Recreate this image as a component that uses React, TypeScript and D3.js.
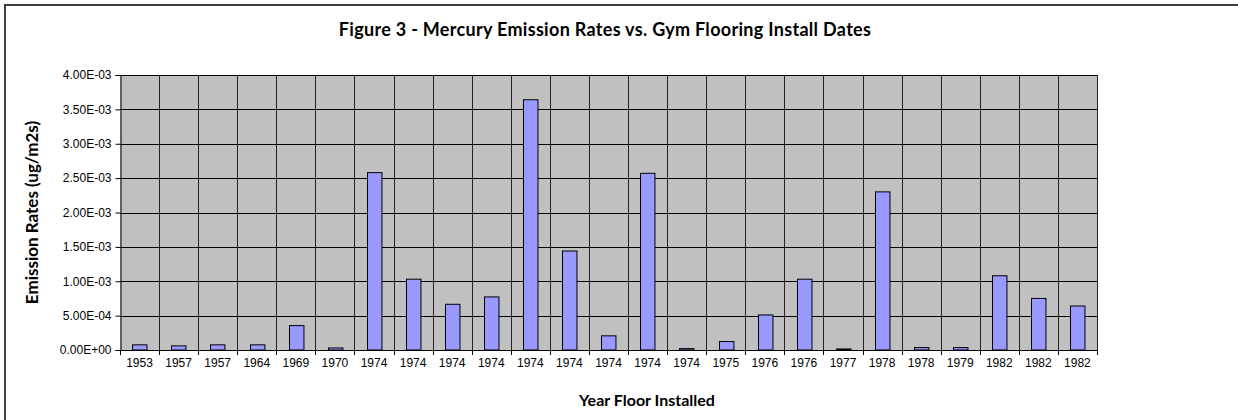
import { useEffect, useRef } from 'react';
import * as d3 from 'd3';

// install year of each floor (one bar per gym)
const years = [
  '1953', '1957', '1957', '1964', '1969', '1970', '1974', '1974', '1974', '1974',
  '1974', '1974', '1974', '1974', '1974', '1975', '1976', '1976', '1977', '1978',
  '1978', '1979', '1982', '1982', '1982',
];

// mercury emission rate, ug/m2s
const emissionRates = [
  7.5e-5, 6e-5, 7.5e-5, 7.5e-5, 3.55e-4, 3e-5, 2.58e-3, 1.03e-3, 6.65e-4, 7.72e-4,
  3.64e-3, 1.44e-3, 2.06e-4, 2.57e-3, 2e-5, 1.23e-4, 5.1e-4, 1.03e-3, 1.5e-5, 2.3e-3,
  3.5e-5, 3.5e-5, 1.08e-3, 7.5e-4, 6.4e-4,
];

const yTicks = [0, 5e-4, 1e-3, 1.5e-3, 2e-3, 2.5e-3, 3e-3, 3.5e-3, 4e-3];

const fmtExp = (v: number) => {
  const s = v.toExponential(2).toUpperCase(); // e.g. 5.00E-4
  return s.replace(/E([+-])(\d)$/, 'E$10$2');
};

const App = () => {
  const svgRef = useRef<SVGSVGElement>(null);

  useEffect(() => {
    const svg = d3.select(svgRef.current);
    svg.selectAll('*').remove();

    const width = 1238;
    const height = 420;
    const plot = { left: 120, right: 1097, top: 75, bottom: 350 };

    svg.attr('width', width).attr('height', height);

    // chart area frame
    svg.append('rect')
      .attr('x', 5).attr('y', 5)
      .attr('width', 1250).attr('height', 430)
      .attr('fill', '#fff')
      .attr('stroke', '#404040')
      .attr('stroke-width', 2);

    const x = d3.scaleBand<number>()
      .domain(d3.range(years.length))
      .range([plot.left, plot.right])
      .paddingInner(0.63)
      .paddingOuter(0.315);

    const y = d3.scaleLinear()
      .domain([0, 4e-3])
      .range([plot.bottom, plot.top]);

    // plot background
    svg.append('rect')
      .attr('x', plot.left).attr('y', plot.top)
      .attr('width', plot.right - plot.left)
      .attr('height', plot.bottom - plot.top)
      .attr('fill', '#c0c0c0');

    // horizontal gridlines
    svg.append('g')
      .selectAll('line')
      .data(yTicks)
      .join('line')
      .attr('x1', plot.left).attr('x2', plot.right)
      .attr('y1', d => Math.round(y(d)) + 0.5)
      .attr('y2', d => Math.round(y(d)) + 0.5)
      .attr('stroke', '#000')
      .attr('stroke-width', 1);

    // vertical gridlines at category boundaries
    const step = (plot.right - plot.left) / years.length;
    const bounds = d3.range(years.length + 1).map(i => plot.left + i * step);
    svg.append('g')
      .selectAll('line')
      .data(bounds.slice(1))
      .join('line')
      .attr('x1', d => Math.round(d) + 0.5).attr('x2', d => Math.round(d) + 0.5)
      .attr('y1', plot.top).attr('y2', plot.bottom)
      .attr('stroke', '#222')
      .attr('stroke-width', 1);

    // bars
    svg.append('g')
      .selectAll('rect')
      .data(emissionRates)
      .join('rect')
      .attr('x', (d, i) => Math.round(x(i)!) + 0.5)
      .attr('y', d => y(d))
      .attr('width', x.bandwidth())
      .attr('height', d => plot.bottom - y(d))
      .attr('fill', '#9999ff')
      .attr('stroke', '#000')
      .attr('stroke-width', 1);

    // y axis
    const yAxis = svg.append('g')
      .attr('transform', `translate(${plot.left + 0.5},0)`)
      .call(d3.axisLeft(y).tickValues(yTicks).tickFormat(d => fmtExp(d as number)).tickSize(5).tickPadding(4));
    yAxis.select('.domain').attr('stroke', '#000');
    yAxis.selectAll('text')
      .attr('font-family', '"Liberation Sans", Arial, sans-serif')
      .attr('font-size', 12)
      .attr('fill', '#000');

    // x axis line and ticks
    svg.append('line')
      .attr('x1', plot.left).attr('x2', plot.right)
      .attr('y1', plot.bottom + 0.5).attr('y2', plot.bottom + 0.5)
      .attr('stroke', '#000');
    svg.append('g')
      .selectAll('line')
      .data(bounds)
      .join('line')
      .attr('x1', d => Math.round(d) + 0.5).attr('x2', d => Math.round(d) + 0.5)
      .attr('y1', plot.bottom).attr('y2', plot.bottom + 5)
      .attr('stroke', '#000');

    svg.append('g')
      .selectAll('text')
      .data(years)
      .join('text')
      .attr('x', (d, i) => x(i)! + x.bandwidth() / 2)
      .attr('y', 367)
      .attr('text-anchor', 'middle')
      .attr('font-family', '"Liberation Sans", Arial, sans-serif')
      .attr('font-size', 12)
      .text(d => d);

    // titles
    svg.append('text')
      .attr('x', 605).attr('y', 36)
      .attr('text-anchor', 'middle')
      .attr('font-family', 'Lato, "Open Sans", sans-serif')
      .attr('font-weight', 'bold')
      .attr('font-size', 18)
      .attr('letter-spacing', 0.3)
      .text('Figure 3 - Mercury Emission Rates vs. Gym Flooring Install Dates');

    svg.append('text')
      .attr('x', 647).attr('y', 406)
      .attr('text-anchor', 'middle')
      .attr('font-family', 'Lato, "Open Sans", sans-serif')
      .attr('font-weight', 'bold')
      .attr('font-size', 16)
      .text('Year Floor Installed');

    svg.append('text')
      .attr('transform', `translate(38,${(plot.top + plot.bottom) / 2}) rotate(-90)`)
      .attr('text-anchor', 'middle')
      .attr('font-family', 'Lato, "Open Sans", sans-serif')
      .attr('font-weight', 'bold')
      .attr('font-size', 17)
      .text('Emission Rates (ug/m2s)');
  }, []);

  return (
    <div style={{ position: 'absolute', left: 0, top: 0 }}>
      <svg ref={svgRef} style={{ display: 'block' }}></svg>
    </div>
  );
};

export default App;
